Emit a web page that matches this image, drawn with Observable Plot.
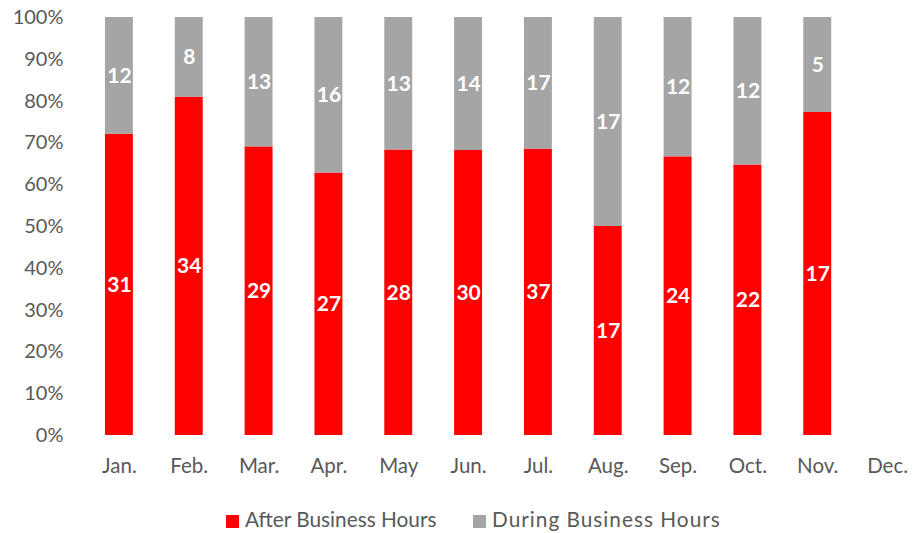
<!DOCTYPE html>
<html>
<head>
<meta charset="utf-8">
<script src="https://cdn.jsdelivr.net/npm/d3@7"></script>
<script src="https://cdn.jsdelivr.net/npm/@observablehq/plot@0.6"></script>
<style>
  body { margin: 0; background: #fff; font-family: Lato, "Noto Sans", sans-serif; }
  #wrap { position: relative; width: 916px; height: 533px; overflow: hidden; }
  #legend { position: absolute; left: 0; top: 506px; width: 916px; height: 27px; color: #595959; font-size: 20.8px; }
  .item { position: absolute; top: 0; line-height: 26px; white-space: nowrap; }
  .sw { display: inline-block; width: 13px; height: 13px; margin-right: 6px; vertical-align: -1px; }
</style>
</head>
<body>
<div id="wrap"><div id="chart"></div>
<div id="legend">
  <div class="item" style="left:226px"><span class="sw" style="background:#ff0000"></span>After Business Hours</div>
  <div class="item" style="left:473px"><span class="sw" style="background:#a5a5a5"></span><span style="letter-spacing:1px">During Business Hours</span></div>
</div>
</div>
<script>
const months = ["Jan.", "Feb.", "Mar.", "Apr.", "May", "Jun.", "Jul.", "Aug.", "Sep.", "Oct.", "Nov.", "Dec."];
const seriesNames = ["After Business Hours", "During Business Hours"];
const afterHours = [31, 34, 29, 27, 28, 30, 37, 17, 24, 22, 17];
const duringHours = [12, 8, 13, 16, 13, 14, 17, 17, 12, 12, 5];
const yTicks = [0, 0.1, 0.2, 0.3, 0.4, 0.5, 0.6, 0.7, 0.8, 0.9, 1];

const data = [];
afterHours.forEach((v, i) => data.push({month: months[i], series: seriesNames[0], value: v}));
duringHours.forEach((v, i) => data.push({month: months[i], series: seriesNames[1], value: v}));

const stackOpts = {x: "month", y: "value", z: "series", offset: "normalize", order: seriesNames};

const chart = Plot.plot({
  width: 916,
  height: 495,
  marginLeft: 84,
  marginRight: 0,
  marginTop: 17,
  marginBottom: 60,
  style: {fontFamily: "Lato, 'Noto Sans', sans-serif", background: "#fff"},
  x: {domain: months, range: [84, 922], paddingInner: 0.6, paddingOuter: 0.3, round: false, label: null},
  y: {domain: [0, 1], label: null},
  color: {domain: seriesNames, range: ["#ff0000", "#a5a5a5"]},
  marks: [
    Plot.ruleY(yTicks, {stroke: "#d9d9d9", strokeWidth: 1.5, x1: 84, x2: 916}),
    Plot.barY(data, Plot.stackY({...stackOpts, fill: "series"})),
    Plot.text(data, Plot.stackY({...stackOpts, text: "value", fill: "white", fontWeight: "bold", fontSize: 21})),
    Plot.axisY({ticks: yTicks, tickFormat: d => Math.round(d * 100) + "%", tickSize: 0, tickPadding: 21, fontSize: 20, color: "#595959", textAnchor: "end"}),
    Plot.axisX({tickSize: 0, tickPadding: 23, fontSize: 20.5, color: "#595959"})
  ]
});
document.getElementById("chart").appendChild(chart);
</script>
</body>
</html>
